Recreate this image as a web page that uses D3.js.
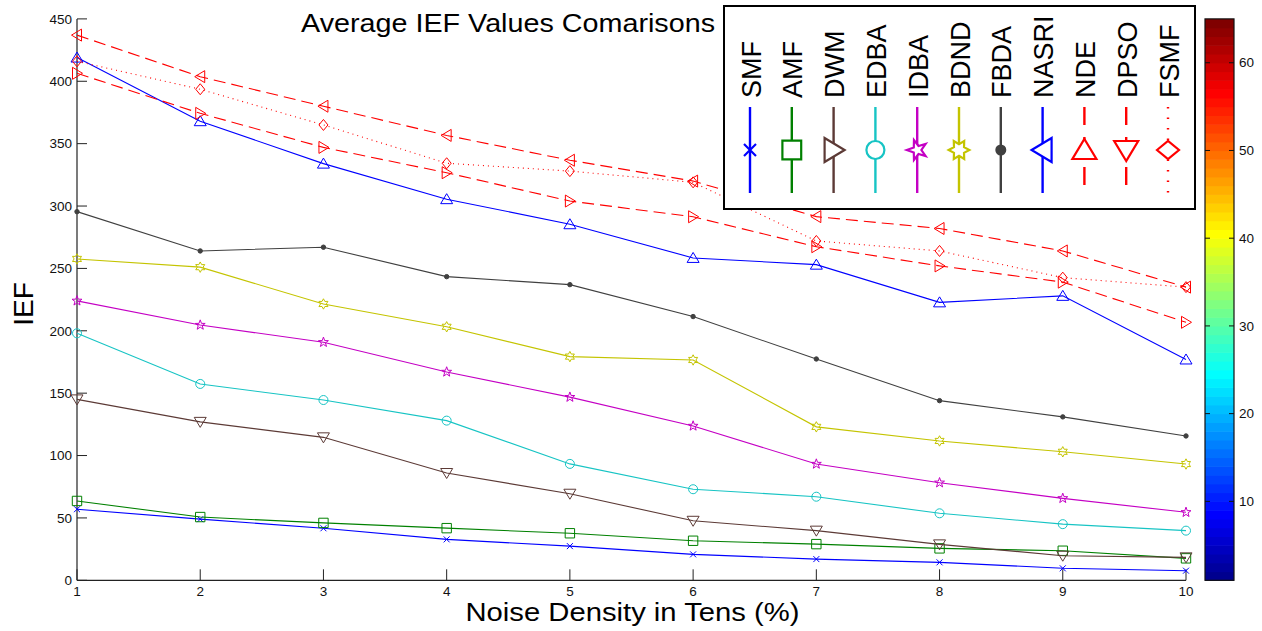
<!DOCTYPE html>
<html><head><meta charset="utf-8">
<script src="https://cdn.jsdelivr.net/npm/d3@7"></script>
<style>
html,body{margin:0;padding:0;background:#fff;}
svg{display:block;font-family:"Liberation Sans",Arial,Helvetica,sans-serif;}
</style></head>
<body><svg id="chart" width="1262" height="631"></svg>
<script>
// ---- data ----
const noiseLevels = [1,2,3,4,5,6,7,8,9,10];
const seriesNames = ["SMF","AMF","DWM","EDBA","IDBA","BDND","FBDA","NASRI","NDE","DPSO","FSMF"];
const SMF   = [57, 49, 41.7, 32.8, 27.4, 20.8, 17, 14.4, 9.6, 7.7];
const AMF   = [63.6, 50.7, 46, 41.8, 37.7, 31.7, 29, 25.6, 23.7, 17.6];
const DWM   = [145, 127, 114.6, 86, 69.4, 47.7, 39.8, 28.8, 19.7, 18.4];
const EDBA  = [198, 157.4, 144.5, 128, 93.3, 73, 67, 53.7, 45, 39.8];
const IDBA  = [224, 204.6, 190.8, 167, 146.8, 123.7, 93.2, 78.2, 65.7, 54.5];
const BDND  = [257.6, 251, 221.5, 203.2, 179.3, 176.6, 123, 111.7, 103, 93.2];
const FBDA  = [295.5, 264, 267, 243.4, 237, 211.4, 177.4, 144, 131, 115.7];
const NASRI = [419, 368, 334, 305.5, 285.4, 258.4, 253, 222.8, 228, 177];
const NDE   = [406.4, 374.3, 347, 326.7, 304, 291.4, 267.4, 252, 239, 206.8];
const DPSO  = [437, 403.7, 380, 356.6, 336.7, 320, 291.5, 282, 264, 235];
const FSMF  = [416, 393.6, 365, 334.3, 328, 319, 272, 264, 242.6, 235];
const yTicks = [0,50,100,150,200,250,300,350,400,450];
const colorbarTicks = [10,20,30,40,50,60];
const titleText = "Average IEF Values Comarisons";
const xLabel = "Noise Density in Tens (%)";
const yLabel = "IEF";

const values = [SMF,AMF,DWM,EDBA,IDBA,BDND,FBDA,NASRI,NDE,DPSO,FSMF];
const colors = ["#0000ff","#008000","#5c3a36","#17c4c4","#c400c4","#c4c400","#404040","#0000ff","#ff0000","#ff0000","#ff0000"];
const markers = ["x","square","triDown","circle","pentagram","hexagram","dot","triUp","triRight","triLeft","diamond"];
const dashes = [null,null,null,null,null,null,null,null,"12,6","12,6","1,4"];

// ---- layout ----
const svg = d3.select("#chart");
const x = d3.scaleLinear().domain([1,10]).range([77,1186]);
const y = d3.scaleLinear().domain([0,450]).range([580.3,18.9]);
const font = "'Liberation Sans',Arial,Helvetica,sans-serif";

function starPath(n, ro, ri){
  let p = [];
  for(let i=0;i<2*n;i++){
    const r = i%2===0?ro:ri;
    const a = -Math.PI/2 + i*Math.PI/n;
    p.push([r*Math.cos(a), r*Math.sin(a)]);
  }
  return "M"+p.map(d=>d[0].toFixed(2)+","+d[1].toFixed(2)).join("L")+"Z";
}
const tri = "M0,-5.5L6,4.5L-6,4.5Z";
const shapes = {
  x: {d:"M-3,-3L3,3M-3,3L3,-3", rot:0, fill:false},
  square: {d:"M-4.7,-4.7H4.7V4.7H-4.7Z", rot:0, fill:false},
  triUp: {d:tri, rot:0, fill:false},
  triDown: {d:tri, rot:180, fill:false},
  triRight: {d:tri, rot:90, fill:false},
  triLeft: {d:tri, rot:-90, fill:false},
  circle: {d:"M4.5,0A4.5,4.5 0 1,1 -4.5,0A4.5,4.5 0 1,1 4.5,0Z", rot:0, fill:false},
  pentagram: {d:starPath(5,5.2,2.1), rot:0, fill:false},
  hexagram: {d:starPath(6,5.2,2.9), rot:0, fill:false},
  dot: {d:"M2.2,0A2.2,2.2 0 1,1 -2.2,0A2.2,2.2 0 1,1 2.2,0Z", rot:0, fill:true},
  diamond: {d:"M0,-5.5L4.5,0L0,5.5L-4.5,0Z", rot:0, fill:false}
};

// ---- title ----
svg.append("text").attr("x",301).attr("y",32).attr("font-size",26).attr("fill","#000")
  .attr("font-family",font).attr("textLength",414).attr("lengthAdjust","spacingAndGlyphs").text(titleText);

// ---- axes ----
const axisG = svg.append("g");
axisG.append("line").attr("x1",77).attr("x2",77).attr("y1",y(450)).attr("y2",y(0)).attr("stroke","#222").attr("stroke-width",1.2);
axisG.append("line").attr("x1",77).attr("x2",x(10)).attr("y1",y(0)).attr("y2",y(0)).attr("stroke","#222").attr("stroke-width",1.2);
yTicks.forEach(t=>{
  axisG.append("line").attr("x1",77).attr("x2",87).attr("y1",y(t)).attr("y2",y(t)).attr("stroke","#222");
  axisG.append("text").attr("x",72).attr("y",y(t)).attr("dy","0.35em").attr("text-anchor","end")
    .attr("font-size",13.5).attr("font-family",font).attr("fill","#111").text(t);
});
noiseLevels.forEach(t=>{
  axisG.append("line").attr("x1",x(t)).attr("x2",x(t)).attr("y1",y(0)).attr("y2",y(0)-11).attr("stroke","#222");
  axisG.append("text").attr("x",x(t)).attr("y",596).attr("text-anchor","middle")
    .attr("font-size",13.5).attr("font-family",font).attr("fill","#111").text(t);
});
svg.append("text").attr("x",632.5).attr("y",621).attr("text-anchor","middle").attr("font-size",25)
  .attr("font-family",font).attr("fill","#000").attr("textLength",334).attr("lengthAdjust","spacingAndGlyphs").text(xLabel);
svg.append("text").attr("transform","translate(33,304) rotate(-90)").attr("text-anchor","middle")
  .attr("font-size",28).attr("font-family",font).attr("fill","#000").text(yLabel);

// ---- series ----
const line = d3.line().x((d,i)=>x(noiseLevels[i])).y(d=>y(d));
values.forEach((vals,k)=>{
  const g = svg.append("g");
  const p = g.append("path").attr("d",line(vals)).attr("fill","none").attr("stroke",colors[k]).attr("stroke-width",1.1);
  if(dashes[k]) p.attr("stroke-dasharray",dashes[k]);
  const sh = shapes[markers[k]];
  vals.forEach((v,i)=>{
    g.append("path").attr("d",sh.d)
      .attr("transform",`translate(${x(noiseLevels[i])},${y(v)}) rotate(${sh.rot})`)
      .attr("fill",sh.fill?colors[k]:"none").attr("stroke",colors[k]).attr("stroke-width",1);
  });
});

// ---- colorbar (jet 64) ----
function jet(v){
  const c = t=>Math.max(0,Math.min(1,t));
  return d3.rgb(255*c(1.5-Math.abs(4*v-3)),255*c(1.5-Math.abs(4*v-2)),255*c(1.5-Math.abs(4*v-1)));
}
const cb = d3.scaleLinear().domain([1,65]).range([580.3,18.9]);
const cbX0 = 1205, cbX1 = 1234;
const cbG = svg.append("g");
d3.range(1,65).forEach(i=>{
  cbG.append("rect").attr("x",cbX0).attr("width",cbX1-cbX0).attr("y",cb(i+1)).attr("height",cb(i)-cb(i+1)+0.6)
    .attr("fill",jet(i/64));
});
cbG.append("rect").attr("x",cbX0).attr("y",cb(65)).attr("width",cbX1-cbX0).attr("height",cb(1)-cb(65))
  .attr("fill","none").attr("stroke","#111").attr("stroke-width",1.2);
colorbarTicks.forEach(t=>{
  cbG.append("line").attr("x1",cbX0).attr("x2",cbX0+5).attr("y1",cb(t)).attr("y2",cb(t)).attr("stroke","#111");
  cbG.append("line").attr("x1",cbX1-5).attr("x2",cbX1).attr("y1",cb(t)).attr("y2",cb(t)).attr("stroke","#111");
  cbG.append("text").attr("x",cbX1+5).attr("y",cb(t)).attr("dy","0.35em").attr("font-size",13.5)
    .attr("font-family",font).attr("fill","#111").text(t);
});

// ---- legend (rotated) ----
const lg = svg.append("g");
lg.append("rect").attr("x",724).attr("y",6).attr("width",471).attr("height",203)
  .attr("fill","#fff").attr("stroke","#000").attr("stroke-width",2);
const legX = d3.scalePoint().domain(seriesNames).range([750,1168]);
seriesNames.forEach((name,k)=>{
  const cx = legX(name);
  lg.append("text").attr("transform",`translate(${cx+10.5},98) rotate(-90)`).attr("font-size",27)
    .attr("font-family",font).attr("fill","#000").text(name);
  const l = lg.append("line").attr("x1",cx).attr("x2",cx).attr("y1",107).attr("y2",193)
    .attr("stroke",colors[k]).attr("stroke-width",2.4);
  if(dashes[k]) l.attr("stroke-dasharray", k===10 ? "1.5,9" : "18,12");
  const sh = shapes[markers[k]];
  lg.append("path").attr("d",sh.d)
    .attr("transform",`translate(${cx},150) rotate(-90) scale(2) rotate(${sh.rot})`)
    .attr("fill",sh.fill?colors[k]:"#fff").attr("stroke",colors[k]).attr("stroke-width",1.1);
});
</script>
</body></html>
